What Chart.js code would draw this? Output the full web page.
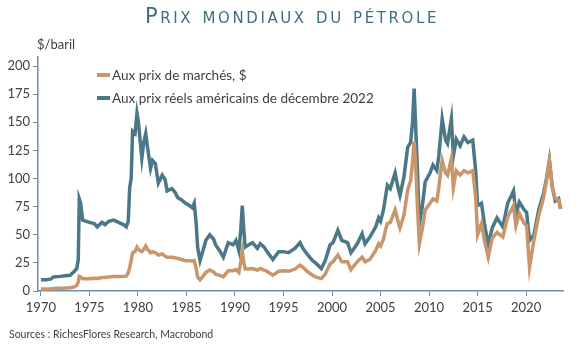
<!DOCTYPE html>
<html>
<head>
<meta charset="utf-8">
<script src="https://cdn.jsdelivr.net/npm/chart.js@4"></script>
<style>
  body { margin: 0; background: #fff; }
  #wrap { position: relative; width: 580px; height: 348px; }
  #title {
    position: absolute; left: 0; width: 584px; top: 4px; text-align: center;
    font-family: "DejaVu Sans", sans-serif; font-size: 21px; font-variant: small-caps;
    letter-spacing: 2.6px; color: #3f6e7e;
  }
  #unit {
    position: absolute; left: 37px; top: 36px;
    font-family: Lato, sans-serif; font-size: 13px; color: #404040;
  }
  #source {
    position: absolute; left: 9px; top: 328px;
    font-family: Lato, sans-serif; font-size: 10.5px; color: #404040;
  }
</style>
</head>
<body>
<div id="wrap">
  <canvas id="chart-oil" width="580" height="348"></canvas>
  <div id="title">Prix mondiaux du pétrole</div>
  <div id="unit">$/baril</div>
  <div id="source">Sources : RichesFlores Research, Macrobond</div>
</div>
<script>
// Prix du pétrole, $/baril
const years = [
  1970.0, 1970.5, 1971.0, 1971.3, 1972.0, 1972.5, 1973.0, 1973.4, 1973.7, 1973.85,
  1973.95, 1974.1, 1974.3, 1975.0, 1975.5, 1975.8, 1976.3, 1976.6, 1977.0, 1977.5,
  1978.0, 1978.5, 1978.8, 1979.0, 1979.15, 1979.3, 1979.45, 1979.7, 1979.9, 1980.05,
  1980.2, 1980.4, 1980.6, 1980.8, 1981.0, 1981.3, 1981.5, 1981.8, 1982.1, 1982.5,
  1982.8, 1983.0, 1983.5, 1983.8, 1984.1, 1984.5, 1984.9, 1985.3, 1985.6, 1985.8,
  1986.0, 1986.15, 1986.4, 1986.7, 1987.0, 1987.4, 1987.8, 1988.0, 1988.4, 1988.8,
  1989.3, 1989.8, 1990.1, 1990.4, 1990.6, 1990.75, 1990.9, 1991.05, 1991.4, 1991.8,
  1992.3, 1992.6, 1993.0, 1993.3, 1993.9, 1994.5, 1995.0, 1995.5, 1996.2, 1996.7,
  1997.0, 1997.5, 1998.0, 1998.3, 1998.9, 1999.3, 1999.8, 2000.1, 2000.6, 2001.0,
  2001.6, 2001.95, 2002.6, 2003.1, 2003.4, 2003.9, 2004.5, 2004.8, 2005.0, 2005.3,
  2005.5, 2005.7, 2006.0, 2006.5, 2006.8, 2007.0, 2007.4, 2007.8, 2008.1, 2008.3,
  2008.46, 2008.6, 2008.8, 2009.0, 2009.3, 2009.6, 2010.1, 2010.4, 2010.8, 2011.0,
  2011.35, 2011.7, 2011.9, 2012.3, 2012.5, 2012.8, 2013.2, 2013.6, 2014.0, 2014.5,
  2014.8, 2015.0, 2015.4, 2015.7, 2016.1, 2016.5, 2017.0, 2017.6, 2018.1, 2018.7,
  2018.95, 2019.3, 2019.8, 2020.05, 2020.35, 2020.8, 2021.3, 2021.8, 2022.1, 2022.4,
  2022.7, 2023.0, 2023.35, 2023.55
];

const marketPrices = [
  1.8, 1.8, 2.0, 2.2, 2.4, 2.6, 2.9, 3.5, 5, 8,
  13, 12.5, 11, 11, 11.3, 11.2, 12, 12, 12.5, 12.8,
  12.8, 13, 13.2, 16, 21, 27, 34, 35, 39, 37,
  36, 35, 37, 40, 37, 34, 35, 34, 32, 33,
  31, 30, 30, 29.5, 29, 28, 27, 27, 26.5, 27,
  20, 12.5, 10, 13, 16.5, 18.6, 17, 15, 14, 12.5,
  18, 18, 19, 16.5, 26, 35, 26, 19.5, 19.5, 20,
  18.5, 20, 18.5, 17.5, 14, 17.5, 18, 17.5, 19.5, 23,
  21, 17, 14, 12.5, 11, 15, 24, 26, 32, 26,
  26, 19, 26, 30, 26, 28, 36, 42, 40, 46,
  54, 60, 61, 72, 62, 56, 67, 90, 98, 115,
  133, 116, 75, 42, 55, 72, 78, 82, 80, 92,
  116, 105, 103, 118, 92, 107, 103, 107, 105, 107,
  84, 50, 60, 45, 30, 47, 52, 48, 66, 76,
  58, 69, 60, 58, 21, 45, 67, 83, 98, 116,
  92, 82, 81, 73
];

const realPrices = [
  10, 10, 10.5, 12.5, 13, 13.5, 14, 17, 20, 28,
  82, 78, 63, 61, 60, 57, 61, 59, 62, 63,
  61, 59, 57, 62, 92, 100, 142, 140, 158, 150,
  136, 118, 132, 140, 127, 109, 116, 113, 96, 103,
  99, 89, 91, 88, 83, 81, 78, 76, 74, 78,
  60, 39, 27, 36, 45, 50, 46, 41, 36, 30,
  43, 41, 45, 36, 55, 76, 55, 39, 41, 43,
  38, 42, 39, 35, 28, 35, 35, 34, 38, 43,
  38, 32, 27, 25, 20, 27, 41, 43, 54, 45,
  43, 34, 42, 51, 42, 48, 57, 65, 62, 72,
  83, 94, 91, 105, 92, 85, 101, 128, 132, 150,
  180, 150, 107, 60, 75, 97, 105, 112, 107, 120,
  153, 134, 131, 153, 120, 135, 129, 137, 132, 134,
  107, 76, 78, 60, 41, 56, 65, 57, 78, 89,
  68, 79, 72, 70, 45, 50, 72, 87, 100, 116,
  92, 80, 82, 73
];

const yearTicks = [1970, 1975, 1980, 1985, 1990, 1995, 2000, 2005, 2010, 2015, 2020];
const priceTicks = [0, 25, 50, 75, 100, 125, 150, 175, 200];
const seriesLabels = ["Aux prix de marchés, $", "Aux prix réels américains de décembre 2022"];

const orange = "#c8966a";
const blue = "#4b7887";
const axisColor = "#6a8db3";
const textColor = "#404040";

// legende dessinee dans la zone du graphique
const insideLegend = {
  id: "insideLegend",
  afterDraw(chart) {
    const ctx = chart.ctx;
    const rows = [75, 98];
    ctx.save();
    ctx.font = "13.5px Lato, sans-serif";
    ctx.textBaseline = "middle";
    chart.data.datasets.forEach((ds, i) => {
      const y = rows[i];
      ctx.strokeStyle = ds.borderColor;
      ctx.lineWidth = 4;
      ctx.beginPath();
      ctx.moveTo(97, y);
      ctx.lineTo(110, y);
      ctx.stroke();
      ctx.fillStyle = textColor;
      ctx.fillText(ds.label, 112, y + 1);
    });
    ctx.restore();
  }
};

const ctx = document.getElementById("chart-oil").getContext("2d");
new Chart(ctx, {
  type: "line",
  data: {
    datasets: [
      {
        label: seriesLabels[0],
        data: years.map((y, i) => ({ x: y, y: marketPrices[i] })),
        borderColor: orange,
        borderWidth: 3.5,
        pointRadius: 0,
        tension: 0
      },
      {
        label: seriesLabels[1],
        data: years.map((y, i) => ({ x: y, y: realPrices[i] })),
        borderColor: blue,
        borderWidth: 3.5,
        pointRadius: 0,
        tension: 0
      }
    ]
  },
  options: {
    responsive: false,
    animation: false,
    layout: { padding: { top: 57, right: 17, left: 0, bottom: 0 } },
    plugins: {
      legend: { display: false },
      tooltip: { enabled: false }
    },
    scales: {
      x: {
        type: "linear",
        min: 1969.7,
        max: 2023.8,
        afterBuildTicks: scale => { scale.ticks = yearTicks.map(v => ({ value: v })); },
        afterFit: scale => { scale.height = 57; },
        ticks: {
          color: textColor, font: { family: "Lato", size: 13 }, padding: 4, maxRotation: 0,
          callback: v => String(v)
        },
        grid: { display: true, drawOnChartArea: false, drawTicks: true, tickLength: 5, color: axisColor },
        border: { color: axisColor, width: 1.5 }
      },
      y: {
        min: 0,
        max: 208,
        afterBuildTicks: scale => { scale.ticks = priceTicks.map(v => ({ value: v })); },
        afterFit: scale => { scale.width = 38; },
        ticks: { color: textColor, font: { family: "Lato", size: 13 }, padding: 3 },
        grid: { display: true, drawOnChartArea: false, drawTicks: true, tickLength: 5, color: axisColor },
        border: { color: axisColor, width: 1.5 }
      }
    }
  },
  plugins: [insideLegend]
});
</script>
</body>
</html>
